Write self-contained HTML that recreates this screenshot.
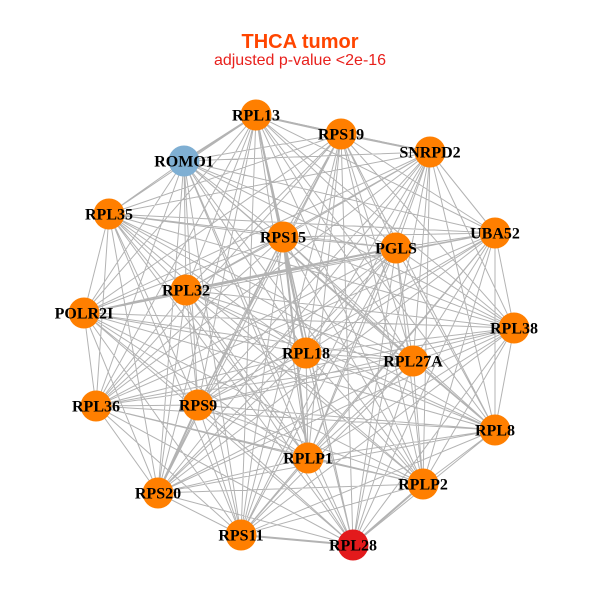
<!DOCTYPE html>
<html><head><meta charset="utf-8"><style>
html,body{margin:0;padding:0;background:#fff;}
svg{display:block;}
.lbl{font-family:"Liberation Serif",serif;font-weight:bold;font-size:16px;fill:#000;text-anchor:middle;}
</style></head><body>
<svg id="g" width="600" height="600" viewBox="0 0 600 600" xmlns="http://www.w3.org/2000/svg">
<rect width="600" height="600" fill="#fff"/>
<text x="300" y="48" text-anchor="middle" font-family="Liberation Sans, sans-serif" font-weight="bold" font-size="20" fill="#FF4500">THCA tumor</text>
<text x="300" y="65" text-anchor="middle" font-family="Liberation Sans, sans-serif" font-size="16" fill="#E8201C">adjusted p-value &lt;2e-16</text>
<g id="edges" stroke="#b3b3b3" stroke-width="1" fill="none"></g>
<g id="nodes"></g>
<g id="labels"></g>
</svg>
<script>
var N=[["RPL13",256,115,"#FF7F00"],["RPS19",341,134,"#FF7F00"],["SNRPD2",430,152,"#FF7F00"],["ROMO1",184,161,"#7FAFD3"],["RPL35",109,214,"#FF7F00"],["RPS15",283,237,"#FF7F00"],["PGLS",396,248,"#FF7F00"],["UBA52",495,233,"#FF7F00"],["RPL32",186,290,"#FF7F00"],["POLR2I",84,313,"#FF7F00"],["RPL38",514,328,"#FF7F00"],["RPL18",306,353,"#FF7F00"],["RPL27A",413,361,"#FF7F00"],["RPL36",96,406,"#FF7F00"],["RPS9",198,405,"#FF7F00"],["RPL8",495,430,"#FF7F00"],["RPLP1",308,458,"#FF7F00"],["RPLP2",423,484,"#FF7F00"],["RPS20",158,493,"#FF7F00"],["RPS11",241,535,"#FF7F00"],["RPL28",353,545,"#E31A1C"]];
var thick={"0-3":1,"0-1":1,"1-2":1,"19-20":1,"17-20":1,"5-16":1,"8-6":1,"0-11":1,"14-18":1};
var ns="http://www.w3.org/2000/svg";
var E=document.getElementById("edges"),G=document.getElementById("nodes"),L=document.getElementById("labels");
var d="",dt="";
for(var i=0;i<N.length;i++){for(var j=i+1;j<N.length;j++){
var s="M"+N[i][1]+" "+N[i][2]+"L"+N[j][1]+" "+N[j][2];
if(thick[i+"-"+j]||thick[j+"-"+i])dt+=s;else d+=s;}}
var p=document.createElementNS(ns,"path");p.setAttribute("d",d);E.appendChild(p);
var p2=document.createElementNS(ns,"path");p2.setAttribute("d",dt);p2.setAttribute("stroke-width","2");E.appendChild(p2);
for(var k=0;k<N.length;k++){
var c=document.createElementNS(ns,"circle");c.setAttribute("cx",N[k][1]);c.setAttribute("cy",N[k][2]);c.setAttribute("r","15.5");c.setAttribute("fill",N[k][3]);G.appendChild(c);
var t=document.createElementNS(ns,"text");t.setAttribute("x",N[k][1]);t.setAttribute("y",N[k][2]+5.5);t.setAttribute("class","lbl");t.textContent=N[k][0];L.appendChild(t);}
</script>
</body></html>
